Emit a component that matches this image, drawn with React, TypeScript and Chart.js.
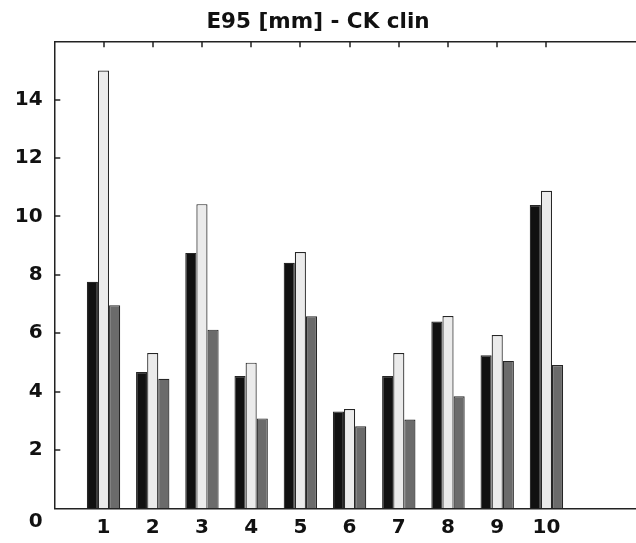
import React, { useEffect, useRef } from "react";
import { Chart, registerables } from "chart.js";

Chart.register(...registerables);

const TITLE = "E95 [mm] - CK clin";
const categories = [1, 2, 3, 4, 5, 6, 7, 8, 9, 10];
const seriesBlack = [7.76, 4.67, 8.75, 4.53, 8.41, 3.32, 4.53, 6.4, 5.24, 10.39];
const seriesLight = [15.0, 5.32, 10.42, 4.99, 8.78, 3.4, 5.32, 6.59, 5.94, 10.88];
const seriesGray = [6.96, 4.44, 6.12, 3.08, 6.58, 2.81, 3.04, 3.84, 5.05, 4.91];
const yTicks = [0, 2, 4, 6, 8, 10, 12, 14, 16];
const yMarkTicks = [2, 4, 6, 8, 10, 12, 14];

const FONT = "'DejaVu Sans', sans-serif";
const AXIS_COLOR = "#222222";

// Inward tick marks (top axis at the categories, left axis at the y ticks)
const inwardTicks = {
  id: "inwardTicks",
  afterDraw(chart: any) {
    const ctx = chart.ctx;
    const area = chart.chartArea;
    const xs = chart.scales["x"];
    const ys = chart.scales["y"];
    ctx.save();
    ctx.strokeStyle = AXIS_COLOR;
    ctx.lineWidth = 1.5;
    ctx.setLineDash([]);
    for (let i = 0; i < categories.length; i++) {
      const px = Math.round(xs.getPixelForValue(categories[i]));
      ctx.beginPath();
      ctx.moveTo(px, area.top);
      ctx.lineTo(px, area.top + 6);
      ctx.stroke();
    }
    for (let i = 0; i < yMarkTicks.length; i++) {
      const py = Math.round(ys.getPixelForValue(yMarkTicks[i]));
      ctx.beginPath();
      ctx.moveTo(area.left, py);
      ctx.lineTo(area.left + 6, py);
      ctx.stroke();
    }
    ctx.restore();
  },
};

export default function App() {
  const ref = useRef<HTMLCanvasElement | null>(null);

  useEffect(() => {
    if (!ref.current) return;
    const mk = (vals: number[]) => vals.map((v, i) => ({ x: categories[i], y: v }));
    const common = {
      borderColor: "#262626",
      borderWidth: 1.2,
      categoryPercentage: 0.678,
      barPercentage: 1.0,
    };
    const chart = new Chart(ref.current, {
      type: "bar",
      data: {
        datasets: [
          { ...common, label: "A", data: mk(seriesBlack), backgroundColor: "#111111" },
          { ...common, label: "B", data: mk(seriesLight), backgroundColor: "#ebebeb" },
          { ...common, label: "C", data: mk(seriesGray), backgroundColor: "#6b6b6b" },
        ],
      },
      plugins: [inwardTicks],
      options: {
        responsive: false,
        animation: false,
        devicePixelRatio: 1,
        layout: { padding: 0 },
        plugins: {
          legend: { display: false },
          tooltip: { enabled: false },
          title: {
            display: true,
            text: TITLE,
            color: "#111111",
            font: { family: FONT, size: 21.5, weight: "bold" },
            padding: { top: 10, bottom: 5.5 },
          },
        },
        scales: {
          x: {
            type: "linear",
            position: "bottom",
            min: 0,
            max: 11.82,
            offset: false,
            bounds: "data",
            afterBuildTicks: (s: any) => {
              s.ticks = categories.map((v) => ({ value: v }));
            },
            afterFit: (s: any) => {
              s.height = 34.7;
            },
            grid: { display: false, drawTicks: false, offset: false },
            border: { display: true, color: AXIS_COLOR, width: 1.5 },
            ticks: {
              padding: 7.7,
              color: "#111111",
              font: { family: FONT, size: 20, weight: "bold" },
              maxRotation: 0,
              autoSkip: false,
              callback: (v: any) => String(v),
            },
          },
          x2: {
            type: "linear",
            position: "top",
            min: 0,
            max: 11.82,
            offset: false,
            bounds: "data",
            afterFit: (s: any) => {
              s.height = 0;
            },
            grid: { display: false, drawTicks: false },
            border: { display: true, color: AXIS_COLOR, width: 1.5 },
            ticks: { display: false },
          },
          y: {
            type: "linear",
            position: "left",
            min: 0,
            max: 16,
            afterBuildTicks: (s: any) => {
              s.ticks = yTicks.map((v) => ({ value: v }));
            },
            afterFit: (s: any) => {
              s.width = 54.3;
              s.paddingBottom = 0;
              s.paddingTop = 0;
            },
            grid: { display: false, drawTicks: false },
            border: { display: true, color: AXIS_COLOR, width: 1.5 },
            ticks: {
              padding: 11.6,
              color: "#111111",
              font: { family: FONT, size: 20, weight: "bold", lineHeight: 1.3 },
              autoSkip: false,
              callback: (v: any) => {
                if (v === 0) return ["", "0"];
                if (v === 16) return "";
                return String(v);
              },
            },
          },
        },
      },
    } as any);
    return () => chart.destroy();
  }, []);

  return (
    <div
      style={{
        position: "fixed",
        left: 0,
        top: 0,
        width: 636,
        height: 543,
        overflow: "hidden",
        background: "#ffffff",
      }}
    >
      <canvas ref={ref} width={636} height={543} style={{ display: "block" }} />
    </div>
  );
}
